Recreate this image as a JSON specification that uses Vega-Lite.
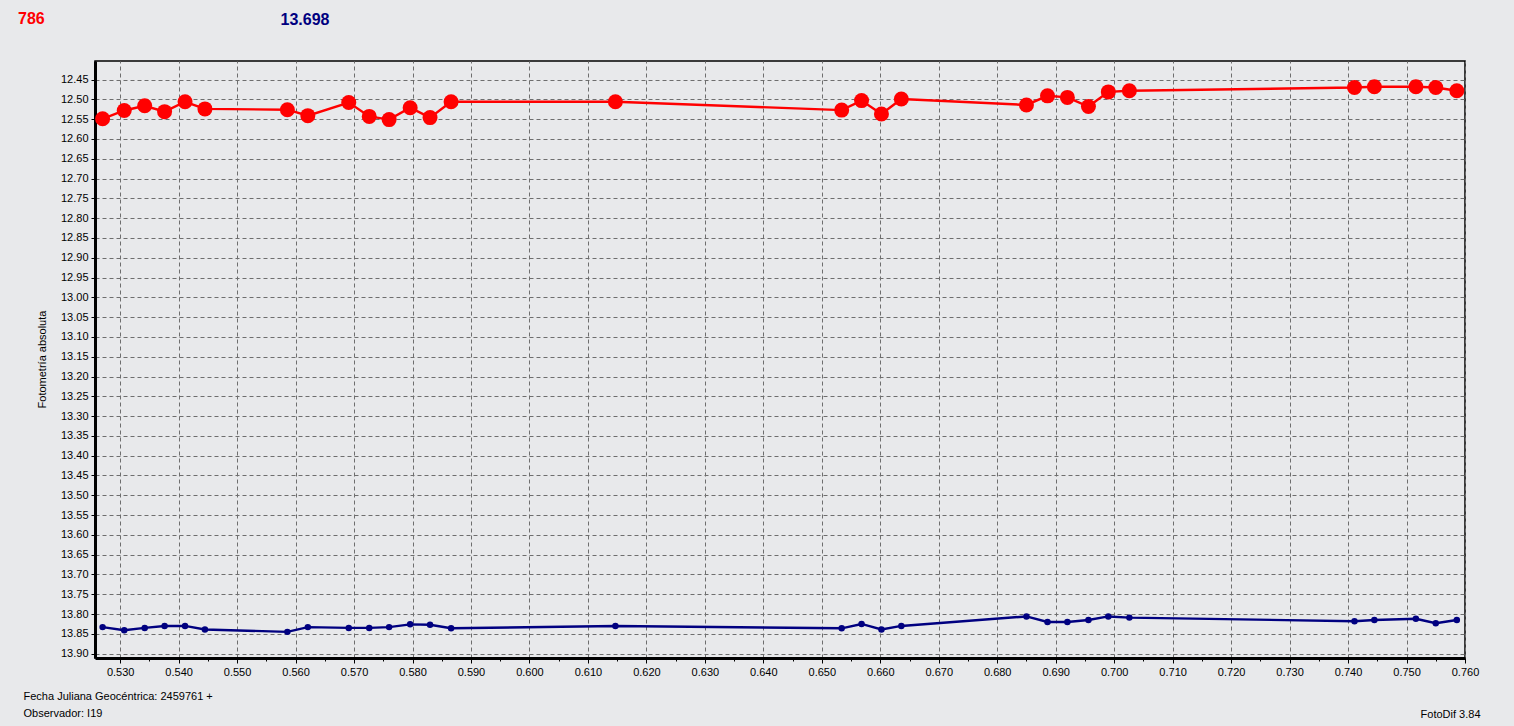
{
  "$schema": "https://vega.github.io/schema/vega-lite/v6.json",
  "autosize": {"type": "none"},
  "width": 1370,
  "height": 597,
  "padding": {"left": 95, "top": 61, "right": 49, "bottom": 68},
  "background": "#e8e9eb",
  "title": {"text": "786", "color": "#ff0000", "fontSize": 16, "fontWeight": "bold", "font": "Liberation Sans", "anchor": "start", "frame": "group", "dx": -77, "dy": 24, "baseline": "middle", "offset": 0},
  "data": {"values": [
    {"jd": 0.5270, "mag": 12.549, "s": "786"},
    {"jd": 0.5307, "mag": 12.528, "s": "786"},
    {"jd": 0.5342, "mag": 12.516, "s": "786"},
    {"jd": 0.5376, "mag": 12.531, "s": "786"},
    {"jd": 0.5411, "mag": 12.506, "s": "786"},
    {"jd": 0.5445, "mag": 12.524, "s": "786"},
    {"jd": 0.5586, "mag": 12.526, "s": "786"},
    {"jd": 0.5621, "mag": 12.541, "s": "786"},
    {"jd": 0.5691, "mag": 12.508, "s": "786"},
    {"jd": 0.5726, "mag": 12.543, "s": "786"},
    {"jd": 0.5760, "mag": 12.551, "s": "786"},
    {"jd": 0.5796, "mag": 12.521, "s": "786"},
    {"jd": 0.5830, "mag": 12.546, "s": "786"},
    {"jd": 0.5866, "mag": 12.506, "s": "786"},
    {"jd": 0.6147, "mag": 12.506, "s": "786"},
    {"jd": 0.6534, "mag": 12.527, "s": "786"},
    {"jd": 0.6568, "mag": 12.503, "s": "786"},
    {"jd": 0.6602, "mag": 12.537, "s": "786"},
    {"jd": 0.6636, "mag": 12.499, "s": "786"},
    {"jd": 0.6850, "mag": 12.514, "s": "786"},
    {"jd": 0.6886, "mag": 12.491, "s": "786"},
    {"jd": 0.6920, "mag": 12.495, "s": "786"},
    {"jd": 0.6956, "mag": 12.518, "s": "786"},
    {"jd": 0.6990, "mag": 12.481, "s": "786"},
    {"jd": 0.7026, "mag": 12.478, "s": "786"},
    {"jd": 0.7411, "mag": 12.470, "s": "786"},
    {"jd": 0.7445, "mag": 12.468, "s": "786"},
    {"jd": 0.7516, "mag": 12.468, "s": "786"},
    {"jd": 0.7550, "mag": 12.470, "s": "786"},
    {"jd": 0.7586, "mag": 12.478, "s": "786"},
    {"jd": 0.5270, "mag": 13.833, "s": "13.698"},
    {"jd": 0.5307, "mag": 13.841, "s": "13.698"},
    {"jd": 0.5342, "mag": 13.835, "s": "13.698"},
    {"jd": 0.5376, "mag": 13.830, "s": "13.698"},
    {"jd": 0.5411, "mag": 13.830, "s": "13.698"},
    {"jd": 0.5445, "mag": 13.839, "s": "13.698"},
    {"jd": 0.5586, "mag": 13.845, "s": "13.698"},
    {"jd": 0.5621, "mag": 13.833, "s": "13.698"},
    {"jd": 0.5691, "mag": 13.835, "s": "13.698"},
    {"jd": 0.5726, "mag": 13.835, "s": "13.698"},
    {"jd": 0.5760, "mag": 13.833, "s": "13.698"},
    {"jd": 0.5796, "mag": 13.826, "s": "13.698"},
    {"jd": 0.5830, "mag": 13.827, "s": "13.698"},
    {"jd": 0.5866, "mag": 13.836, "s": "13.698"},
    {"jd": 0.6147, "mag": 13.830, "s": "13.698"},
    {"jd": 0.6534, "mag": 13.836, "s": "13.698"},
    {"jd": 0.6568, "mag": 13.825, "s": "13.698"},
    {"jd": 0.6602, "mag": 13.839, "s": "13.698"},
    {"jd": 0.6636, "mag": 13.830, "s": "13.698"},
    {"jd": 0.6850, "mag": 13.806, "s": "13.698"},
    {"jd": 0.6886, "mag": 13.820, "s": "13.698"},
    {"jd": 0.6920, "mag": 13.820, "s": "13.698"},
    {"jd": 0.6956, "mag": 13.815, "s": "13.698"},
    {"jd": 0.6990, "mag": 13.806, "s": "13.698"},
    {"jd": 0.7026, "mag": 13.809, "s": "13.698"},
    {"jd": 0.7411, "mag": 13.818, "s": "13.698"},
    {"jd": 0.7445, "mag": 13.815, "s": "13.698"},
    {"jd": 0.7516, "mag": 13.812, "s": "13.698"},
    {"jd": 0.7550, "mag": 13.823, "s": "13.698"},
    {"jd": 0.7586, "mag": 13.815, "s": "13.698"}
  ]},
  "encoding": {
    "x": {"field": "jd", "type": "quantitative", "scale": {"domain": [0.5257, 0.7600], "nice": false, "zero": false}},
    "y": {"field": "mag", "type": "quantitative", "scale": {"domain": [12.403, 13.911], "nice": false, "zero": false, "reverse": true}},
    "color": {"field": "s", "type": "nominal", "scale": {"domain": ["786", "13.698"], "range": ["#ff0000", "#000080"]}, "legend": null}
  },
  "layer": [
    {
      "mark": {"type": "line", "strokeWidth": 2.4},
      "encoding": {
        "x": {"field": "jd", "type": "quantitative", "axis": {
          "orient": "bottom",
          "values": [0.530,0.535,0.540,0.545,0.550,0.555,0.560,0.565,0.570,0.575,0.580,0.585,0.590,0.595,0.600,0.605,0.610,0.615,0.620,0.625,0.630,0.635,0.640,0.645,0.650,0.655,0.660,0.665,0.670,0.675,0.680,0.685,0.690,0.695,0.700,0.705,0.710,0.715,0.720,0.725,0.730,0.735,0.740,0.745,0.750,0.755,0.760],
          "labelExpr": "round(datum.value*1000) % 10 === 0 ? format(datum.value, '.3f') : ''",
          "labelOverlap": false,
          "labelFlush": false,
          "labelPadding": 3,
          "tickSize": {"condition": {"test": "round(datum.value*1000) % 10 === 0", "value": 5}, "value": 3},
          "gridOpacity": {"condition": {"test": "round(datum.value*1000) % 10 === 0", "value": 1}, "value": 0},
          "domainWidth": 3,
          "title": ["Fecha Juliana Geocéntrica: 2459761 +", "Observador: I19"],
          "titleX": -72,
          "titleY": 32,
          "titleAlign": "left",
          "titleBaseline": "top",
          "titleLineHeight": 17,
          "titleAnchor": null
        }},
        "y": {"field": "mag", "type": "quantitative", "axis": {
          "orient": "left",
          "values": [12.45,12.50,12.55,12.60,12.65,12.70,12.75,12.80,12.85,12.90,12.95,13.00,13.05,13.10,13.15,13.20,13.25,13.30,13.35,13.40,13.45,13.50,13.55,13.60,13.65,13.70,13.75,13.80,13.85,13.90],
          "format": ".2f",
          "labelOverlap": false,
          "labelFlush": false,
          "tickSize": 4,
          "labelPadding": 3,
          "domainWidth": 3,
          "title": "Fotometría absoluta",
          "titleX": -53,
          "titleY": 298,
          "titleAlign": "center",
          "titleBaseline": "middle"
        }}
      }
    },
    {
      "mark": {"type": "point", "filled": true, "opacity": 1},
      "encoding": {
        "size": {"field": "s", "type": "nominal", "scale": {"domain": ["786", "13.698"], "range": [225, 42]}, "legend": null},
        "x": {"field": "jd", "type": "quantitative", "axis": {
          "orient": "top", "domain": false, "ticks": false, "labels": false, "grid": false,
          "title": "13.698", "titleColor": "#000080", "titleFontSize": 16, "titleFontWeight": "bold",
          "titleX": 185, "titleY": -42, "titleAlign": "left", "titleBaseline": "middle", "titleAngle": 0
        }},
        "y": {"field": "mag", "type": "quantitative", "axis": {
          "orient": "right", "domain": false, "ticks": false, "labels": false, "grid": false,
          "title": "FotoDif 3.84", "titleAngle": 0, "titleX": 15, "titleY": 653,
          "titleAlign": "right", "titleBaseline": "middle", "titleFontWeight": "normal", "titleFontSize": 11, "titleColor": "#000000"
        }}
      }
    }
  ],
  "resolve": {"axis": {"x": "independent", "y": "independent"}},
  "config": {
    "font": "Liberation Sans",
    "view": {"stroke": "#000000", "strokeWidth": 1.5},
    "axis": {
      "domainColor": "#000000",
      "tickColor": "#000000",
      "labelColor": "#000000",
      "labelFont": "Liberation Sans",
      "labelFontSize": 11,
      "titleFont": "Liberation Sans",
      "titleFontSize": 11,
      "titleFontWeight": "normal",
      "titleColor": "#000000",
      "grid": true,
      "gridColor": "#6e6e6e",
      "gridDash": [4, 3],
      "gridWidth": 1
    }
  }
}
